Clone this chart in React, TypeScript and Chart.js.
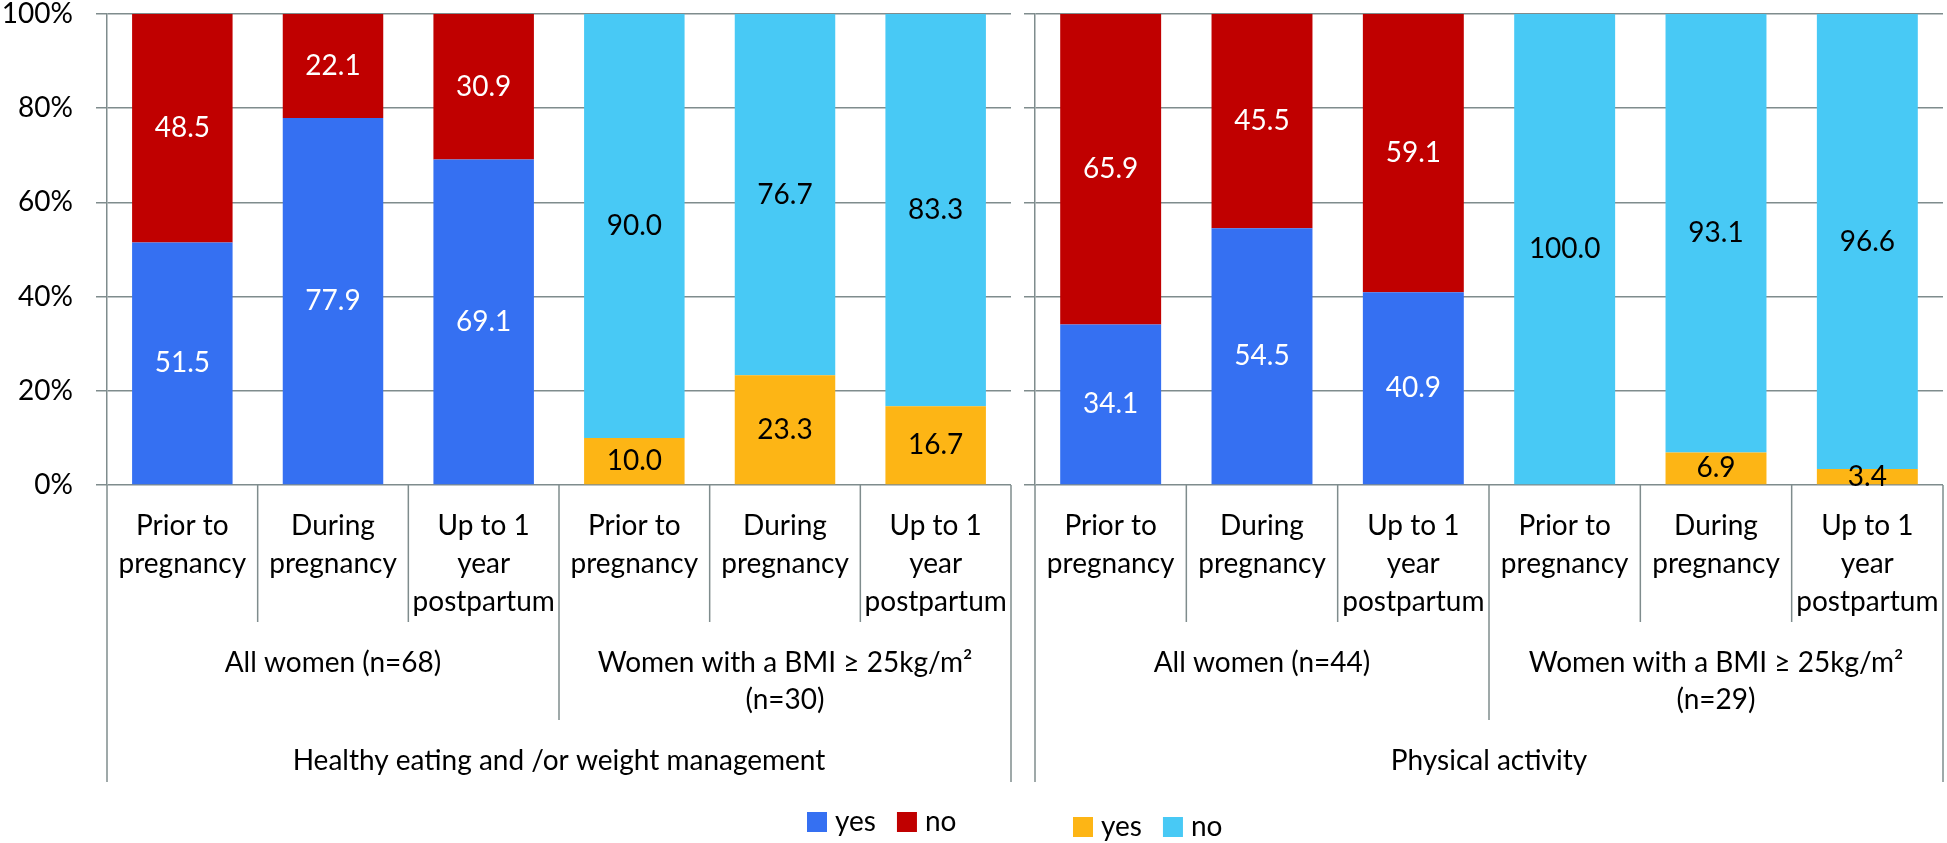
import React, { useEffect, useRef } from "react";
import { Chart, registerables } from "chart.js";

Chart.register(...registerables);

// ---------- data ----------
const categories = [
  "Prior to pregnancy",
  "During pregnancy",
  "Up to 1 year postpartum",
  "Prior to pregnancy",
  "During pregnancy",
  "Up to 1 year postpartum",
];
const categoryLines = [
  ["Prior to", "pregnancy"],
  ["During", "pregnancy"],
  ["Up to 1", "year", "postpartum"],
  ["Prior to", "pregnancy"],
  ["During", "pregnancy"],
  ["Up to 1", "year", "postpartum"],
];
const yTickValues = [0, 20, 40, 60, 80, 100];

const eatingAllYes = [51.5, 77.9, 69.1, null, null, null];
const eatingAllNo = [48.5, 22.1, 30.9, null, null, null];
const eatingBmiYes = [null, null, null, 10.0, 23.3, 16.7];
const eatingBmiNo = [null, null, null, 90.0, 76.7, 83.3];

const activityAllYes = [34.1, 54.5, 40.9, null, null, null];
const activityAllNo = [65.9, 45.5, 59.1, null, null, null];
const activityBmiYes = [null, null, null, 0.0, 6.9, 3.4];
const activityBmiNo = [null, null, null, 100.0, 93.1, 96.6];

const eatingGroups = [["All women (n=68)"], ["Women with a BMI ≥ 25kg/m²", "(n=30)"]];
const activityGroups = [["All women (n=44)"], ["Women with a BMI ≥ 25kg/m²", "(n=29)"]];
const panelTitles = ["Healthy eating and /or weight management", "Physical activity"];
const legendLabels = ["yes", "no"];

// ---------- style ----------
const BLUE = "#3570F2";
const RED = "#C00000";
const ORANGE = "#FDB515";
const CYAN = "#48C9F5";
const GRID = "#7F8C8D";
const FONT = "Lato";
const FS = 28;
const H = 843;

function makeDatasets(allYes, allNo, bmiYes, bmiNo) {
  return [
    { label: legendLabels[0], data: allYes, backgroundColor: BLUE, labelColor: "#fff" },
    { label: legendLabels[1], data: allNo, backgroundColor: RED, labelColor: "#fff" },
    { label: legendLabels[0], data: bmiYes, backgroundColor: ORANGE, labelColor: "#000" },
    { label: legendLabels[1], data: bmiNo, backgroundColor: CYAN, labelColor: "#000" },
  ];
}

const valueLabelPlugin = {
  id: "valueLabels",
  afterDatasetsDraw(chart) {
    const ctx = chart.ctx;
    ctx.save();
    ctx.font = `${FS}px ${FONT}`;
    ctx.textAlign = "center";
    ctx.textBaseline = "middle";
    chart.data.datasets.forEach((ds, di) => {
      const meta = chart.getDatasetMeta(di);
      meta.data.forEach((el, j) => {
        const v = ds.data[j];
        if (v == null || v === 0) return;
        const p = el.getProps(["x", "y", "base"], true);
        ctx.fillStyle = ds.labelColor;
        ctx.fillText(v.toFixed(1), p.x, (p.y + p.base) / 2);
      });
    });
    ctx.restore();
  },
};

function hierarchyPlugin(groups, title, legendX, legendY, legendColors) {
  return {
    id: "hierarchy",
    afterDraw(chart) {
      const { ctx, chartArea } = chart;
      const { left, right, bottom } = chartArea;
      const n = categories.length;
      const w = (right - left) / n;
      ctx.save();
      ctx.strokeStyle = GRID;
      ctx.lineWidth = 1.5;
      for (let i = 0; i <= n; i++) {
        const x = left + i * w;
        const yEnd = i === 0 || i === n ? 782 : i === n / 2 ? 720 : 622;
        ctx.beginPath();
        ctx.moveTo(x, bottom);
        ctx.lineTo(x, yEnd);
        ctx.stroke();
      }
      ctx.fillStyle = "#000";
      ctx.font = `${FS}px ${FONT}`;
      ctx.textAlign = "center";
      ctx.textBaseline = "middle";
      categoryLines.forEach((lines, i) => {
        const cx = left + (i + 0.5) * w;
        lines.forEach((t, k) => ctx.fillText(t, cx, 526 + k * 38));
      });
      groups.forEach((lines, g) => {
        const cx = left + (g * 3 + 1.5) * w;
        lines.forEach((t, k) => ctx.fillText(t, cx, 663 + k * 37));
      });
      ctx.fillText(title, (left + right) / 2, 761);

      // legend
      ctx.textAlign = "left";
      let x = legendX;
      legendLabels.forEach((t, i) => {
        ctx.fillStyle = legendColors[i];
        ctx.fillRect(x, legendY - 10, 20, 20);
        ctx.fillStyle = "#000";
        ctx.fillText(t, x + 28, legendY);
        x += 28 + ctx.measureText(t).width + 21;
      });
      ctx.restore();
    },
  };
}

function makeConfig(datasets, opts) {
  return {
    type: "bar",
    data: { labels: categories, datasets },
    options: {
      animation: false,
      responsive: false,
      devicePixelRatio: 1,
      layout: { padding: { top: 14, left: 0, right: opts.rightPad, bottom: 0 } },
      datasets: { bar: { barPercentage: 0.667, categoryPercentage: 1, borderWidth: 0 } },
      plugins: { legend: { display: false }, tooltip: { enabled: false } },
      scales: {
        x: {
          stacked: true,
          grid: { display: false },
          border: { display: false },
          ticks: { display: false },
          afterFit: (s) => {
            s.height = H - 485;
            s.paddingLeft = 0;
            s.paddingRight = 0;
          },
        },
        y: {
          stacked: true,
          min: 0,
          max: 100,
          afterBuildTicks: (s) => {
            s.ticks = yTickValues.map((v) => ({ value: v }));
          },
          ticks: {
            display: opts.showTicks,
            callback: (v) => v + "%",
            font: { family: FONT, size: FS },
            color: "#000",
            padding: 23,
          },
          grid: { color: GRID, lineWidth: 1.5, tickLength: 11, drawTicks: true },
          border: { display: true, color: GRID, width: 1.5 },
          afterFit: (s) => {
            s.width = opts.yWidth;
            s.paddingTop = 0;
            s.paddingBottom = 0;
          },
        },
      },
    },
    plugins: [
      valueLabelPlugin,
      hierarchyPlugin(opts.groups, opts.title, opts.legendX, opts.legendY, opts.legendColors),
    ],
  };
}

function Panel({ left, width, build }) {
  const ref = useRef(null);
  useEffect(() => {
    const chart = new Chart(ref.current, build());
    return () => chart.destroy();
  }, []);
  return (
    <div style={{ position: "absolute", left, top: 0, width, height: H }}>
      <canvas ref={ref} width={width} height={H} style={{ display: "block", width, height: H }} />
    </div>
  );
}

export default function App() {
  return (
    <div style={{ position: "absolute", left: 0, top: 0, width: 1947, height: H, background: "#fff", overflow: "hidden" }}>
      <Panel
        left={0}
        width={1018}
        build={() =>
          makeConfig(makeDatasets(eatingAllYes, eatingAllNo, eatingBmiYes, eatingBmiNo), {
            rightPad: 7,
            yWidth: 107,
            showTicks: true,
            groups: eatingGroups,
            title: panelTitles[0],
            legendX: 807,
            legendY: 822,
            legendColors: [BLUE, RED],
          })
        }
      />
      <Panel
        left={1000}
        width={947}
        build={() =>
          makeConfig(makeDatasets(activityAllYes, activityAllNo, activityBmiYes, activityBmiNo), {
            rightPad: 4,
            yWidth: 35,
            showTicks: false,
            groups: activityGroups,
            title: panelTitles[1],
            legendX: 73,
            legendY: 827,
            legendColors: [ORANGE, CYAN],
          })
        }
      />
    </div>
  );
}
